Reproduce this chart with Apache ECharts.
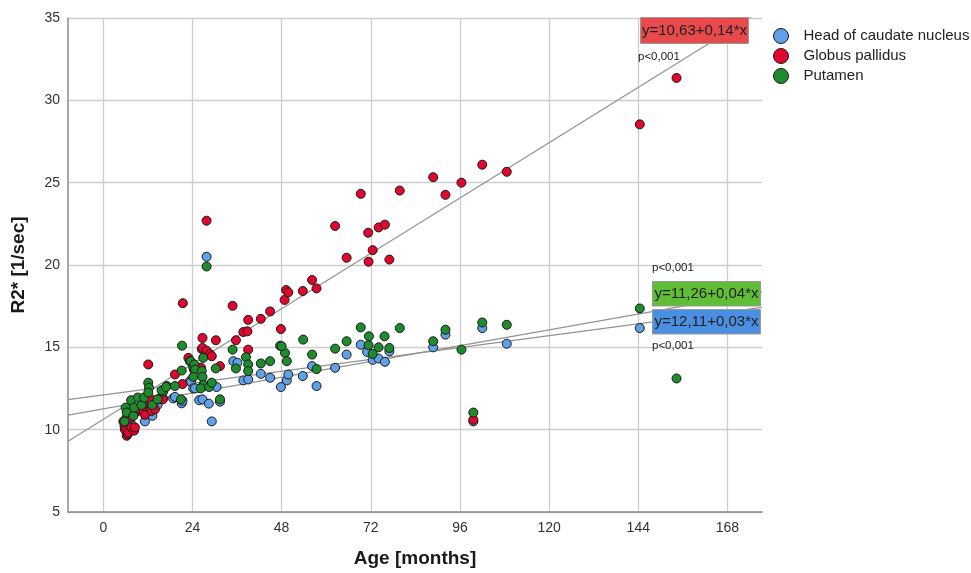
<!DOCTYPE html>
<html>
<head>
<meta charset="utf-8">
<script src="https://cdn.jsdelivr.net/npm/echarts@6/dist/echarts.min.js"></script>
<style>html,body{margin:0;padding:0;background:#fff;}#c{width:971px;height:573px;}</style>
</head>
<body>
<div id="c"></div>
<script>
var seriesNames = ['Head of caudate nucleus', 'Globus pallidus', 'Putamen'];
var xTicks = [0, 24, 48, 72, 96, 120, 144, 168];
var xRange = [-9.5, 177.3];
var yRange = [5, 35];

var caudate = [[6.0,10.6],[6.3,10.74],[7.5,10.34],[8.5,11.04],[8.0,10.9],[11.2,10.5],[13.2,10.84],[10.3,11.2],[12.1,11.6],[14.6,11.5],[16.1,11.9],[18.8,11.9],[19.3,11.99],[21.1,11.6],[21.3,11.75],[23.3,12.95],[23.6,12.9],[24.2,12.51],[24.7,12.51],[25.8,11.79],[26.7,11.84],[28.4,11.58],[29.2,10.5],[30.5,12.59],[31.4,11.7],[27.8,20.5],[35.0,14.16],[36.1,14.06],[37.7,12.99],[39.0,13.05],[42.4,13.39],[44.9,13.15],[47.8,12.59],[49.4,12.99],[49.8,13.35],[53.7,13.26],[56.2,13.86],[57.4,12.65],[62.4,13.76],[65.5,14.56],[69.3,15.16],[71.0,14.72],[72.5,14.24],[74.1,14.32],[75.8,14.12],[77.0,14.76],[88.8,15.0],[92.1,15.77],[99.6,10.5],[102.0,16.17],[108.6,15.22],[144.4,16.17]];

var pallidus = [[5.4,10.5],[5.7,10.24],[5.8,10.03],[6.0,9.94],[6.3,9.63],[6.6,9.73],[6.7,9.83],[7.5,10.14],[8.3,9.94],[8.5,10.14],[7.5,10.74],[9.3,11.14],[9.9,11.24],[10.8,11.1],[10.8,11.54],[11.2,10.9],[13.0,11.14],[13.9,11.24],[13.0,11.84],[15.3,11.9],[14.8,11.84],[16.0,11.84],[12.1,13.96],[19.3,13.35],[21.3,12.77],[22.9,14.36],[23.3,14.16],[24.4,13.65],[25.8,13.76],[26.3,13.76],[26.7,15.57],[26.5,14.9],[26.7,14.96],[27.8,14.8],[28.7,14.6],[29.2,14.46],[30.3,15.43],[31.4,13.86],[21.4,17.68],[27.8,22.69],[34.8,17.52],[35.7,15.43],[37.7,15.93],[38.8,15.97],[39.0,16.67],[39.0,14.86],[42.4,16.73],[44.9,17.18],[47.8,16.11],[48.8,17.88],[49.2,18.48],[49.8,18.34],[53.7,18.42],[56.2,19.09],[57.4,18.58],[62.4,22.37],[65.5,20.44],[69.3,24.32],[71.3,21.96],[71.4,20.2],[72.5,20.9],[74.1,22.28],[75.8,22.45],[77.0,20.33],[79.8,24.52],[88.8,25.33],[92.1,24.26],[96.4,25.0],[99.6,10.6],[102.0,26.09],[108.6,25.66],[144.4,28.54],[154.3,31.36]];

var putamen = [[5.7,10.5],[6.0,11.34],[6.3,11.04],[7.5,11.79],[8.1,10.84],[8.3,11.34],[9.3,11.95],[10.3,11.5],[11.0,11.95],[12.1,12.85],[12.3,12.55],[12.1,12.25],[13.2,11.5],[14.6,11.84],[16.1,12.31],[17.1,12.65],[15.7,12.39],[16.9,12.59],[19.3,12.65],[20.9,11.84],[21.2,15.1],[21.1,13.59],[23.5,14.16],[24.2,13.8],[24.5,13.96],[24.7,13.65],[24.2,13.2],[26.5,13.56],[26.7,13.2],[26.9,14.36],[26.9,12.71],[26.2,12.51],[28.5,12.59],[29.2,12.85],[27.8,19.91],[30.3,13.72],[31.4,11.84],[34.8,14.86],[35.7,13.72],[38.4,14.4],[39.0,13.96],[39.0,13.56],[42.4,14.02],[44.9,14.16],[47.6,15.1],[48.9,14.66],[49.4,14.16],[48.0,15.07],[53.8,15.47],[56.2,14.56],[57.4,13.68],[62.4,14.92],[65.5,15.37],[69.3,16.21],[71.4,15.13],[71.5,15.67],[72.5,14.6],[74.1,15.0],[75.7,15.67],[77.0,14.96],[79.8,16.17],[88.8,15.37],[92.1,16.07],[96.4,14.86],[99.6,11.04],[102.0,16.51],[108.6,16.37],[144.4,17.36],[154.3,13.11]];

// fit lines: [intercept, slope]
var fitCaudate = [12.11, 0.03];
var fitPallidus = [10.63, 0.14];
var fitPutamen = [11.26, 0.04];
var fitLabels = ['y=12,11+0,03*x', 'y=10,63+0,14*x', 'y=11,26+0,04*x'];
var pLabel = 'p<0,001';

var colors = ['#5fa0e6', '#e1062d', '#1e8c2c'];
var boxColors = ['#4b8fe2', '#e84a4b', '#60bd36'];

function fitLine(f) {
  return [[xRange[0], f[0] + f[1] * xRange[0]], [xRange[1], f[0] + f[1] * xRange[1]]];
}

var FONT = 'Liberation Sans, Arial, sans-serif';
var chart = echarts.init(document.getElementById('c'), null, {renderer: 'canvas'});

function scatter(name, data, color, z) {
  return {
    name: name, type: 'scatter', data: data, symbol: 'circle', symbolSize: 9, z: z,
    itemStyle: {color: color, borderColor: '#1a1a1a', borderWidth: 1, opacity: 1},
    emphasis: {disabled: true}
  };
}
function line(f) {
  return {
    type: 'line', data: fitLine(f), showSymbol: false, symbol: 'none', silent: true, z: 1, clip: true,
    lineStyle: {color: '#939393', width: 1.2}, emphasis: {disabled: true}
  };
}

var option = {
  backgroundColor: '#fff',
  animation: false,
  textStyle: {fontFamily: FONT},
  grid: {left: 68, top: 18, right: 209, bottom: 58, containLabel: false},
  legend: {
    data: seriesNames, orient: 'vertical', left: 768, top: 23,
    icon: 'circle', itemWidth: 15, itemHeight: 15, itemGap: 4,
    itemStyle: {borderColor: '#1a1a1a', borderWidth: 1},
    textStyle: {fontSize: 15, color: '#222', fontFamily: FONT, padding: [0, 0, 0, 10]}
  },
  xAxis: {
    type: 'value', min: xRange[0], max: xRange[1],
    name: 'Age [months]', nameLocation: 'middle', nameGap: 37,
    nameTextStyle: {fontSize: 19, fontWeight: 'bold', color: '#1a1a1a', fontFamily: FONT},
    axisLine: {show: true, onZero: false, lineStyle: {color: '#8a8a8a', width: 1.5}},
    axisTick: {show: false, customValues: xTicks},
    axisLabel: {customValues: xTicks, fontSize: 14, color: '#333', margin: 9, fontFamily: FONT},
    splitLine: {show: true, lineStyle: {color: '#cdcdcd', width: 1.3}}
  },
  yAxis: {
    type: 'value', min: yRange[0], max: yRange[1], interval: 5,
    name: 'R2* [1/sec]', nameLocation: 'middle', nameGap: 40,
    nameTextStyle: {fontSize: 19, fontWeight: 'bold', color: '#1a1a1a', fontFamily: FONT},
    axisLine: {show: true, onZero: false, lineStyle: {color: '#8a8a8a', width: 1.5}},
    axisTick: {show: false},
    axisLabel: {fontSize: 14, color: '#333', margin: 8, fontFamily: FONT},
    splitLine: {show: true, lineStyle: {color: '#cdcdcd', width: 1.3}}
  },
  series: [
    line(fitCaudate), line(fitPallidus), line(fitPutamen),
    scatter(seriesNames[0], caudate, colors[0], 3),
    scatter(seriesNames[1], pallidus, colors[1], 4),
    scatter(seriesNames[2], putamen, colors[2], 5)
  ],
  graphic: [
    {type: 'rect', z: 100, shape: {x: 640.5, y: 17.5, width: 108, height: 26}, style: {fill: boxColors[1], stroke: '#9a9a9a', lineWidth: 1}},
    {type: 'text', z: 101, x: 694.5, y: 30.5, style: {text: fitLabels[1], fill: '#222', font: '15px ' + FONT, align: 'center', verticalAlign: 'middle'}},
    {type: 'text', z: 101, x: 638, y: 57, style: {text: pLabel, fill: '#222', font: '11.5px ' + FONT, align: 'left', verticalAlign: 'middle'}},

    {type: 'text', z: 101, x: 652, y: 268, style: {text: pLabel, fill: '#222', font: '11.5px ' + FONT, align: 'left', verticalAlign: 'middle'}},
    {type: 'rect', z: 100, shape: {x: 652.5, y: 281.5, width: 108, height: 24.5}, style: {fill: boxColors[2], stroke: '#9a9a9a', lineWidth: 1}},
    {type: 'text', z: 101, x: 706.5, y: 294, style: {text: fitLabels[2], fill: '#222', font: '15px ' + FONT, align: 'center', verticalAlign: 'middle'}},
    {type: 'rect', z: 100, shape: {x: 652.5, y: 309.5, width: 108, height: 24.5}, style: {fill: boxColors[0], stroke: '#9a9a9a', lineWidth: 1}},
    {type: 'text', z: 101, x: 706.5, y: 322, style: {text: fitLabels[0], fill: '#222', font: '15px ' + FONT, align: 'center', verticalAlign: 'middle'}},
    {type: 'text', z: 101, x: 652, y: 346, style: {text: pLabel, fill: '#222', font: '11.5px ' + FONT, align: 'left', verticalAlign: 'middle'}}
  ]
};
chart.setOption(option);
</script>
</body>
</html>
